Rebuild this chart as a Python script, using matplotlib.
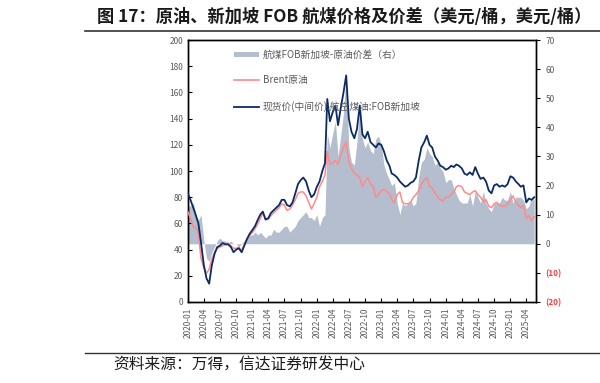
import matplotlib
matplotlib.use("Agg")
import matplotlib.pyplot as plt
from matplotlib.patches import Patch
from matplotlib.lines import Line2D
import pandas as pd
import datetime as dt

plt.rcParams['font.family'] = ['Noto Sans CJK SC', 'DejaVu Sans']

# semi-monthly observation dates (1st and 16th of each month), 2020-01 .. 2025-05
months = pd.period_range('2020-01', '2025-05', freq='M')
dates = [dt.date(p.year, p.month, d) for p in months for d in (1, 16)]

jet = [83, 78, 72, 66, 60, 45, 28, 18, 14, 28, 37, 42, 43, 45, 44, 44, 42, 38, 40, 41,
       38, 43, 48, 52, 55, 58, 63, 67, 69, 63, 64, 68, 70, 72, 74, 78, 78, 74, 73, 76,
       83, 90, 93, 95, 92, 85, 80, 82, 88, 92, 100, 106, 155, 138, 145, 150, 135, 148, 160, 173,
       140, 130, 125, 132, 150, 128, 125, 130, 122, 120, 118, 121, 120, 115, 108, 104, 98, 97, 95, 92,
       90, 88, 89, 91, 92, 95, 108, 118, 122, 127, 120, 118, 111, 108, 104, 103, 101, 102, 104, 103,
       105, 104, 102, 98, 97, 99, 97, 103, 98, 94, 95, 92, 85, 83, 89, 90, 88, 89, 88, 90,
       96, 95, 92, 90, 88, 89, 76, 79, 78, 80]

brent = [69, 64, 57, 57, 52, 33, 26, 22, 25, 33, 38, 41, 42, 43, 44, 45, 43, 41, 41, 42,
         39, 44, 48, 51, 53, 56, 60, 64, 68, 63, 63, 66, 68, 70, 72, 75, 74, 70, 71, 74,
         78, 83, 84, 84, 81, 76, 71, 75, 80, 88, 92, 97, 115, 105, 106, 108, 105, 112, 118, 122,
         107, 102, 98, 97, 95, 88, 92, 95, 90, 88, 80, 82, 85, 86, 84, 83, 78, 76, 82, 84,
         76, 75, 75, 76, 80, 82, 85, 90, 93, 95, 88, 87, 83, 80, 78, 77, 80, 80, 82, 84,
         88, 89, 88, 84, 83, 82, 84, 85, 82, 80, 77, 78, 73, 72, 75, 76, 74, 73, 73, 75,
         78, 81, 76, 74, 72, 74, 64, 66, 62, 65]

spread = [13, 13, 14, 10, 8, 10, 1, -5, -6, -3, -1, 1, 2, 1, 1, 0, 1, 0, 0, -1,
          0, 1, 2, 3, 3, 4, 3, 4, 3, 2, 3, 3, 5, 4, 4, 5, 6, 6, 4, 5,
          6, 8, 9, 10, 11, 9, 9, 8, 10, 6, 9, 10, 38, 33, 38, 42, 30, 37, 45, 58,
          33, 28, 27, 35, 47, 36, 33, 35, 32, 31, 36, 37, 34, 27, 24, 22, 20, 21, 14, 10,
          14, 13, 14, 15, 13, 14, 23, 28, 29, 33, 31, 30, 27, 28, 26, 25, 21, 22, 22, 19,
          17, 15, 14, 14, 14, 17, 13, 18, 16, 14, 18, 14, 12, 11, 14, 14, 14, 16, 15, 15,
          18, 14, 16, 16, 16, 15, 12, 13, 16, 15]

xtick_labels = ['2020-01', '2020-04', '2020-07', '2020-10', '2021-01', '2021-04', '2021-07',
                '2021-10', '2022-01', '2022-04', '2022-07', '2022-10', '2023-01', '2023-04',
                '2023-07', '2023-10', '2024-01', '2024-04', '2024-07', '2024-10', '2025-01',
                '2025-04']
left_ticks = [0, 20, 40, 60, 80, 100, 120, 140, 160, 180, 200]
right_ticks = [-20, -10, 0, 10, 20, 30, 40, 50, 60, 70]

labels = ['航煤FOB新加坡-原油价差（右）', 'Brent原油', '现货价(中间价):航空煤油:FOB新加坡']

grey_txt = '#595959'
fill_c = '#B4BECE'
red_c = '#FF8A8A'
navy_c = '#0C2B63'

fig = plt.figure(figsize=(6.0, 3.83), dpi=100)
ax = fig.add_axes([0.313, 0.2115, 0.58, 0.684])
ax2 = ax.twinx()

ax2.fill_between(dates, 0, spread, color=fill_c, lw=0, zorder=1)
ax.plot(dates, brent, color=red_c, lw=1.1, zorder=3)
ax.plot(dates, jet, color=navy_c, lw=1.3, zorder=4)

ax.set_zorder(ax2.get_zorder() + 1)
ax.patch.set_visible(False)

ax.set_ylim(0, 200)
ax2.set_ylim(-20, 70)
ax.set_yticks(left_ticks)
ax.set_yticklabels([str(v) for v in left_ticks])
ax2.set_yticks(right_ticks)
ax2.set_yticklabels([f'({-v})' if v < 0 else str(v) for v in right_ticks])
for lab, v in zip(ax2.get_yticklabels(), right_ticks):
    if v < 0:
        lab.set_color('#FF3B3B')
        lab.set_fontweight('bold')
    else:
        lab.set_color(grey_txt)

ax.set_xlim(dt.date(2020, 1, 1), dt.date(2025, 5, 25))
xt = [dt.date(int(s[:4]), int(s[5:]), 1) for s in xtick_labels]
ax.set_xticks(xt)
ax.set_xticklabels(xtick_labels, rotation=90)

for a in (ax, ax2):
    for sp in a.spines.values():
        sp.set_color('#000000')
        sp.set_linewidth(1.0)
ax.tick_params(axis='y', direction='in', length=3, labelsize=6, labelcolor=grey_txt, width=0.8)
ax.tick_params(axis='x', direction='in', length=3, labelsize=6, labelcolor=grey_txt, width=0.8, pad=4)
ax2.tick_params(axis='y', direction='out', length=3, labelsize=6, width=0.8, pad=4)

handles = [Patch(facecolor=fill_c, edgecolor='none'),
           Line2D([], [], color=red_c, lw=1.2),
           Line2D([], [], color=navy_c, lw=1.3)]
leg = ax.legend(handles, labels, loc='upper left', bbox_to_anchor=(0.115, 0.985), frameon=False,
                fontsize=7, labelspacing=1.6, handlelength=2.6, handleheight=0.5,
                handletextpad=0.4, borderaxespad=0.2)
for t in leg.get_texts():
    t.set_color(grey_txt)

fig.text(97 / 600, 1 - 17 / 383, '图 17：原油、新加坡 FOB 航煤价格及价差（美元/桶，美元/桶）',
         fontsize=12.4, fontweight='bold', color='#1a1a1a', va='center', ha='left')
fig.add_artist(Line2D([85 / 600, 1.0], [1 - 31 / 383, 1 - 31 / 383], color='#333333', lw=1.2))
fig.add_artist(Line2D([85 / 600, 1.0], [1 - 352.5 / 383, 1 - 352.5 / 383], color='#333333', lw=1.0))
fig.text(113 / 600, 1 - 364 / 383, '资料来源：万得，信达证券研发中心', fontsize=11.3,
         color='#1a1a1a', va='center', ha='left', style='italic')

fig.savefig('out.png', dpi=100)
